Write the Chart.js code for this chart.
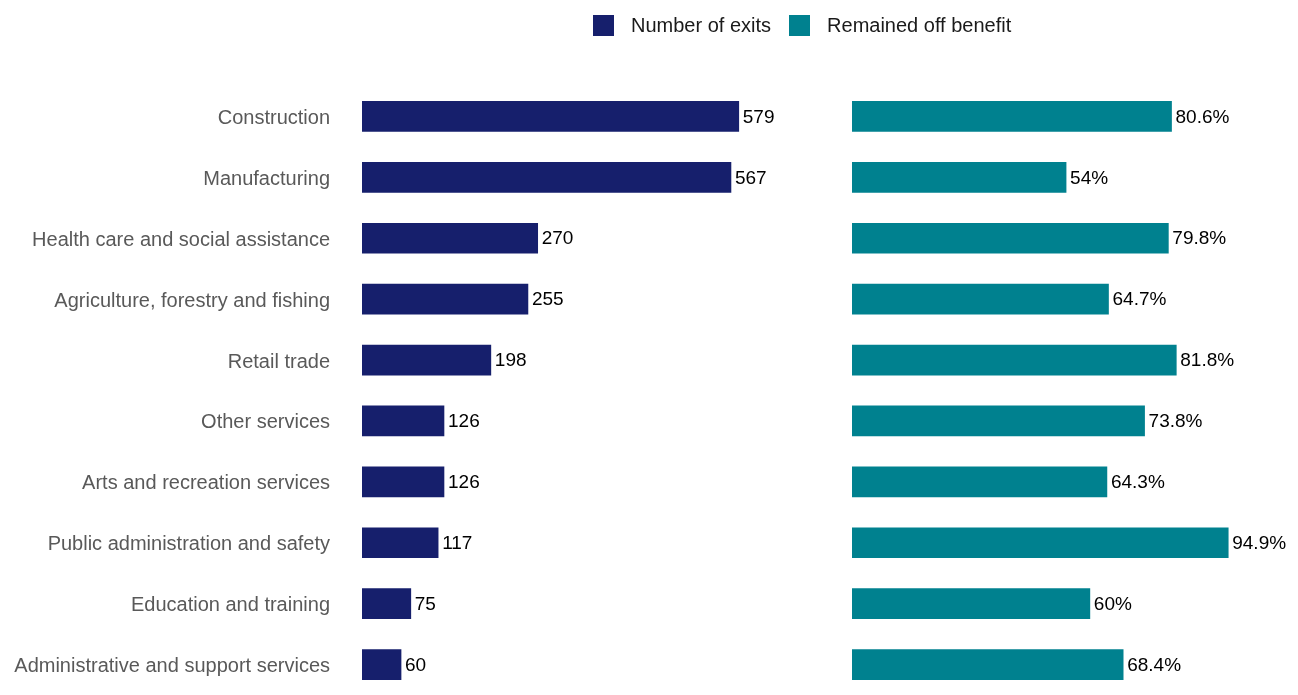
<!DOCTYPE html>
<html>
<head>
<meta charset="utf-8">
<script src="https://cdn.jsdelivr.net/npm/chart.js@4"></script>
<style>
  html, body { margin: 0; padding: 0; background: #ffffff; }
  #wrap { position: relative; width: 1298px; height: 695px; }
  #c { display: block; }
  #legend { position: absolute; left: 593px; top: 14px; display: flex; align-items: center;
            font-family: "Liberation Sans", Arial, sans-serif; font-size: 20px; color: #1a1a1a; }
  .item { display: flex; align-items: center; margin-right: 18px; }
  .box { width: 21px; height: 21px; margin-right: 17px; }
</style>
</head>
<body>
<div id="wrap">
  <canvas id="c" width="1298" height="695" style="width:1298px;height:695px"></canvas>
  <div id="legend"></div>
</div>
<script>
const categories = [
  "Construction",
  "Manufacturing",
  "Health care and social assistance",
  "Agriculture, forestry and fishing",
  "Retail trade",
  "Other services",
  "Arts and recreation services",
  "Public administration and safety",
  "Education and training",
  "Administrative and support services"
];
const numberOfExits = [579, 567, 270, 255, 198, 126, 126, 117, 75, 60];
const remainedOffBenefit = [80.6, 54, 79.8, 64.7, 81.8, 73.8, 64.3, 94.9, 60, 68.4];
const seriesNames = ["Number of exits", "Remained off benefit"];
const seriesColors = ["#161f6c", "#00818f"];

const FONT = '"Liberation Sans", Arial, sans-serif';

const valueLabels = {
  id: 'valueLabels',
  afterDatasetsDraw(chart) {
    const ctx = chart.ctx;
    ctx.save();
    ctx.font = '19px ' + FONT;
    ctx.fillStyle = '#000000';
    ctx.textAlign = 'left';
    ctx.textBaseline = 'middle';
    chart.data.datasets.forEach((ds, i) => {
      const meta = chart.getDatasetMeta(i);
      meta.data.forEach((bar, j) => {
        const v = ds.data[j];
        const txt = i === 1 ? v + '%' : String(v);
        ctx.fillText(txt, bar.x + 4, bar.y + 1);
      });
    });
    ctx.restore();
  }
};

const chart = new Chart(document.getElementById('c'), {
  type: 'bar',
  data: {
    labels: categories,
    datasets: [
      { label: seriesNames[0], data: numberOfExits, backgroundColor: seriesColors[0], xAxisID: 'x', grouped: false },
      { label: seriesNames[1], data: remainedOffBenefit, backgroundColor: seriesColors[1], xAxisID: 'x2', grouped: false }
    ]
  },
  options: {
    indexAxis: 'y',
    responsive: false,
    maintainAspectRatio: false,
    animation: false,
    layout: { padding: { top: 86, bottom: 0, left: 0, right: 0 } },
    datasets: { bar: { barThickness: 30 } },
    plugins: { legend: { display: false }, tooltip: { enabled: false } },
    scales: {
      y: {
        position: 'left',
        grid: { display: false, drawTicks: false },
        border: { display: false },
        ticks: { font: { family: FONT, size: 20 }, color: '#595959', padding: 32, autoSkip: false, labelOffset: 2 },
        afterFit(scale) { scale.width = 362; scale.paddingTop = 0; scale.paddingBottom = 0; }
      },
      x: {
        display: false,
        position: 'bottom', stack: 'h', stackWeight: 490,
        min: 0, max: 753
      },
      x2: {
        display: false,
        position: 'bottom', stack: 'h', stackWeight: 446,
        min: 0, max: 112.5
      }
    }
  },
  plugins: [valueLabels]
});

const legend = document.getElementById('legend');
chart.data.datasets.forEach(ds => {
  const item = document.createElement('div');
  item.className = 'item';
  const box = document.createElement('span');
  box.className = 'box';
  box.style.background = ds.backgroundColor;
  const t = document.createElement('span');
  t.textContent = ds.label;
  item.appendChild(box); item.appendChild(t);
  legend.appendChild(item);
});
</script>
</body>
</html>
